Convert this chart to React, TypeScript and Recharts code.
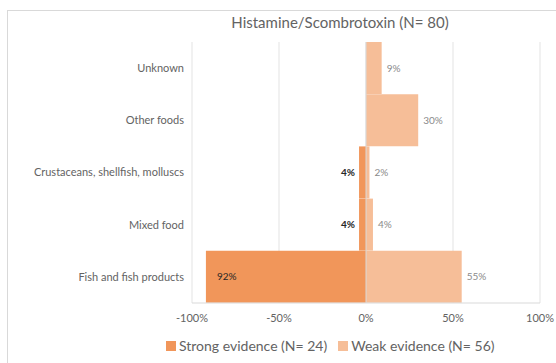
import React from 'react';
import { BarChart, Bar, XAxis, YAxis, CartesianGrid, Legend, LabelList, ReferenceLine } from 'recharts';

const categories = ['Unknown', 'Other foods', 'Crustaceans, shellfish, molluscs', 'Mixed food', 'Fish and fish products'];
const strongEvidence = [0, 0, -0.04, -0.04, -0.92];
const weakEvidence = [0.09, 0.3, 0.02, 0.04, 0.55];
const xTicks = [-1, -0.5, 0, 0.5, 1];

const data = categories.map((name, i) => ({ name, strong: strongEvidence[i], weak: weakEvidence[i] }));

const FONT = 'Lato, "Open Sans", sans-serif';
const STRONG = '#F1965A';
const WEAK = '#F6BE98';

const pct = (v: number) => `${Math.round(v * 100)}%`;

const StrongLabel = (props: any) => {
  const { x, y, width, height, value } = props;
  if (!value) return null;
  const left = Math.min(x, x + width);
  const w = Math.abs(width);
  const inside = w > 30;
  return (
    <text
      x={inside ? left + 11 : left - 4}
      y={y + height / 2}
      dy="0.35em"
      textAnchor={inside ? 'start' : 'end'}
      fontSize={10}
      fontFamily={FONT}
      fontWeight={inside ? 400 : 700}
      fill="#262626"
    >
      {pct(Math.abs(value))}
    </text>
  );
};

const WeakLabel = (props: any) => {
  const { x, y, width, height, value } = props;
  if (!value) return null;
  return (
    <text x={x + width + 5} y={y + height / 2} dy="0.35em" fontSize={10} fontFamily={FONT} fill="#8a8a8a">
      {pct(value)}
    </text>
  );
};

const CategoryTick = (props: any) => {
  const { x, y, payload } = props;
  return (
    <text x={x} y={y} dy="0.35em" textAnchor="end" fontSize={11} fontFamily={FONT} fill="#636363">
      {payload.value}
    </text>
  );
};

const LegendContent = () => (
  <div style={{ display: 'flex', alignItems: 'center', fontFamily: FONT, fontSize: 14, color: '#636363', whiteSpace: 'nowrap' }}>
    <span style={{ width: 10, height: 10, background: STRONG, display: 'inline-block', marginRight: 3 }} />
    <span style={{ marginRight: 11 }}>Strong evidence (N= 24)</span>
    <span style={{ width: 10, height: 10, background: WEAK, display: 'inline-block', marginRight: 3 }} />
    <span>Weak evidence (N= 56)</span>
  </div>
);

export default function App() {
  return (
    <div style={{ position: 'absolute', left: 0, top: 0, width: 556, height: 363, overflow: 'hidden', background: '#fff' }}>
      <div style={{ position: 'absolute', left: 7, top: 10, width: 700, height: 400, border: '1px solid #d9d9d9' }} />
      <div
        style={{
          position: 'absolute', left: 140, top: 13, width: 400, textAlign: 'center',
          fontFamily: FONT, fontSize: 15, lineHeight: '18px', color: '#636363',
        }}
      >
        Histamine/Scombrotoxin (N= 80)
      </div>
      <BarChart
        width={556}
        height={363}
        data={data}
        layout="vertical"
        stackOffset="sign"
        barCategoryGap={0}
        margin={{ top: 42, right: 16, left: 0, bottom: 30 }}
        style={{ position: 'absolute', left: 0, top: 0 }}
      >
        <CartesianGrid horizontal={false} stroke="#e3e3e3" />
        <XAxis
          type="number"
          domain={[-1, 1]}
          ticks={xTicks}
          tickFormatter={pct}
          axisLine={{ stroke: '#d9d9d9' }}
          tickLine={false}
          tickMargin={5}
          height={30}
          tick={{ fill: '#636363', fontSize: 11, fontFamily: FONT }}
        />
        <YAxis
          type="category"
          dataKey="name"
          width={192}
          axisLine={false}
          tickLine={false}
          tickMargin={2}
          tick={CategoryTick}
        />
        <ReferenceLine x={0} stroke="#d9d9d9" />
        <Bar dataKey="strong" stackId="a" fill={STRONG} isAnimationActive={false}>
          <LabelList dataKey="strong" content={StrongLabel} />
        </Bar>
        <Bar dataKey="weak" stackId="a" fill={WEAK} isAnimationActive={false}>
          <LabelList dataKey="weak" content={WeakLabel} />
        </Bar>
        <Legend
          layout="horizontal"
          verticalAlign="middle"
          align="center"
          content={LegendContent}
          wrapperStyle={{ position: 'absolute', top: 337, left: 166, width: 'auto' }}
        />
      </BarChart>
    </div>
  );
}
